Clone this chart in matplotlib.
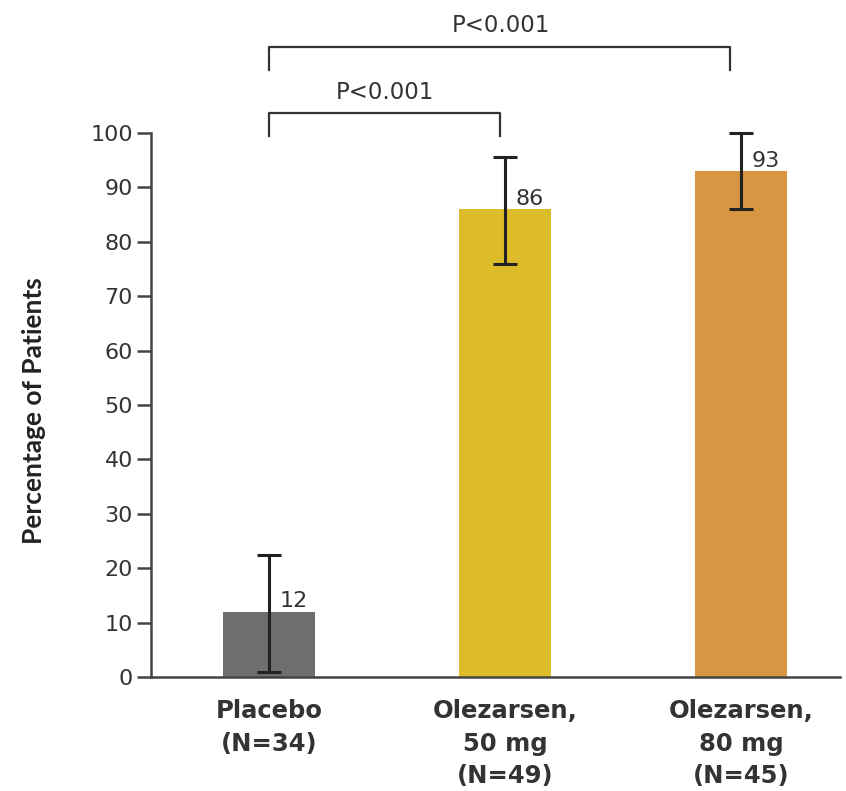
import matplotlib
matplotlib.use("Agg")
import matplotlib.pyplot as plt
from matplotlib import font_manager

categories = ["Placebo\n(N=34)", "Olezarsen,\n50 mg\n(N=49)", "Olezarsen,\n80 mg\n(N=45)"]
values = [12, 86, 93]
ci_low = [1, 76, 86]
ci_high = [22.5, 95.5, 100]
value_labels = ["12", "86", "93"]
bar_colors = ["#6e6e6e", "#dcbc28", "#d99642"]
p_texts = ["P<0.001", "P<0.001"]

plt.rcParams['font.family'] = ['DejaVu Sans']

names = {f.name for f in font_manager.fontManager.ttflist}
ylab_family = 'Liberation Sans Narrow' if 'Liberation Sans Narrow' in names else 'Lato'

fig = plt.figure(figsize=(8.46, 7.91), dpi=100)
ax = fig.add_axes([0.1785, 0.1441, 0.8145, 0.6878])

x = list(range(len(values)))
ax.bar(x, values, width=0.39, color=bar_colors, zorder=2)
yerr = [[v - l for v, l in zip(values, ci_low)], [h - v for v, h in zip(values, ci_high)]]
ax.errorbar(x, values, yerr=yerr, fmt='none', ecolor='#222222', elinewidth=2.2,
            capsize=8.5, capthick=2.2, zorder=3, clip_on=False)

for xi, v, lab in zip(x, values, value_labels):
    ax.text(xi + 0.045, v + 0.8, lab, fontsize=16, color='#333333',
            ha='left', va='baseline')

ax.set_xlim(-0.502, 2.42)
ax.set_ylim(0, 100)
ax.set_yticks(range(0, 101, 10))
ax.set_xticks(x)
ax.set_xticklabels(categories, fontsize=17.5, fontweight='bold', color='#333333',
                   linespacing=1.45)
ax.tick_params(axis='y', length=10, width=1.8, color='#444444', labelsize=16,
               labelcolor='#333333', pad=3)
ax.tick_params(axis='x', length=0, pad=16)

for s in ['top', 'right']:
    ax.spines[s].set_visible(False)
for s in ['left', 'bottom']:
    ax.spines[s].set_linewidth(1.8)
    ax.spines[s].set_color('#444444')

ax.set_ylabel("Percentage of Patients", fontsize=19, fontweight='bold',
              family=[ylab_family, 'DejaVu Sans'], color='#222222')
ax.yaxis.set_label_coords(-0.152, 0.49)

# significance brackets
brackets = [(0, 1.0 - 0.02, 103.7, 99.4, p_texts[0], 0.49, 107.4),
            (0, 2.0 - 0.045, 115.8, 111.6, p_texts[1], 0.98, 119.7)]
for x0, x1, yt, yb, txt, tx, ty in brackets:
    ax.plot([x0, x0, x1, x1], [yb, yt, yt, yb], color='#333333', lw=1.6,
            clip_on=False)
    ax.text(tx, ty, txt, fontsize=16.5, color='#333333', ha='center', va='center',
            clip_on=False)

fig.savefig("out.png", dpi=100)
